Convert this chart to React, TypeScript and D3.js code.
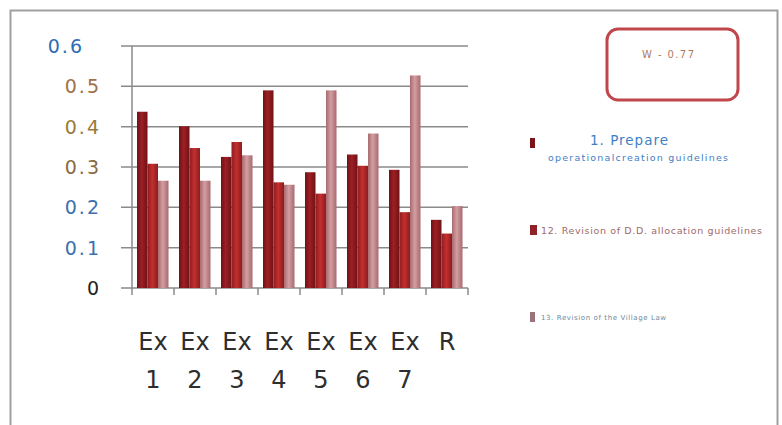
import React from "react"
import * as d3 from "d3"

const categories = ["Ex 1", "Ex 2", "Ex 3", "Ex 4", "Ex 5", "Ex 6", "Ex 7", "R"]
const seriesNames = [
  "1. Prepare operationalcreation guidelines",
  "12. Revision of D.D. allocation guidelines",
  "13. Revision of the Village Law",
]
const prepare = [0.437, 0.401, 0.325, 0.49, 0.287, 0.331, 0.293, 0.169]
const revisionDD = [0.308, 0.347, 0.362, 0.262, 0.234, 0.303, 0.188, 0.135]
const revisionLaw = [0.266, 0.266, 0.329, 0.256, 0.49, 0.383, 0.527, 0.203]
const yTicks = [0, 0.1, 0.2, 0.3, 0.4, 0.5, 0.6]
const tickColors = ["#222222", "#3a6fb0", "#3a6fb0", "#8a6a40", "#9a7a3a", "#a0704a", "#2e6db5"]
const seriesColors = [
  ["#6e1216", "#9e1f24", "#6e1216"],
  ["#8e1c20", "#c2302f", "#8e1c20"],
  ["#a86a6e", "#d39ea2", "#a86a6e"],
]

const W = 782
const H = 425

export default function App() {
  const x = d3.scaleBand<string>().domain(categories).range([132, 468]).padding(0)
  const y = d3.scaleLinear().domain([0, 0.6]).range([288, 46])
  const inner = d3.scaleBand<number>().domain([0, 1, 2]).range([5, 36.5]).padding(0)
  const series = [prepare, revisionDD, revisionLaw]

  return (
    <div style={{ position: "absolute", left: 0, top: 0 }}>
      <svg width={W} height={H} style={{ display: "block", background: "#fff" }} fontFamily="'DejaVu Sans', sans-serif">
        <defs>
          {seriesColors.map((c, i) => (
            <linearGradient key={i} id={`bar-grad-${i}`} x1="0" x2="1" y1="0" y2="0">
              <stop offset="0%" stopColor={c[0]} />
              <stop offset="45%" stopColor={c[1]} />
              <stop offset="100%" stopColor={c[2]} />
            </linearGradient>
          ))}
        </defs>

        {/* outer frame */}
        <rect x={10.5} y={10.5} width={767} height={440} fill="none" stroke="#a0a0a0" strokeWidth={2} />

        {/* gridlines */}
        {yTicks.map((t) => (
          <line key={t} x1={121} x2={468} y1={y(t)} y2={y(t)} stroke="#8a8a8a" strokeWidth={1.5} />
        ))}
        <line x1={132} x2={132} y1={y(0.6)} y2={295} stroke="#8a8a8a" strokeWidth={1.5} />
        {categories.map((c) => (
          <line key={c} x1={(x(c) ?? 0) + x.bandwidth()} x2={(x(c) ?? 0) + x.bandwidth()} y1={288} y2={295} stroke="#8a8a8a" strokeWidth={1.5} />
        ))}

        {/* bars */}
        {series.map((vals, si) =>
          vals.map((v, ci) => (
            <rect
              key={`${si}-${ci}`}
              x={(x(categories[ci]) ?? 0) + (inner(si) ?? 0)}
              y={y(v)}
              width={inner.bandwidth()}
              height={y(0) - y(v)}
              fill={`url(#bar-grad-${si})`}
            />
          ))
        )}

        {/* y tick labels */}
        {yTicks.map((t, i) => (
          <text
            key={t}
            x={t === 0.6 ? 84 : 101}
            y={y(t) + 7}
            textAnchor="end"
            fontSize={19}
            letterSpacing={2}
            fill={tickColors[i]}
          >
            {t === 0 ? "0" : d3.format(".1f")(t)}
          </text>
        ))}

        {/* x labels */}
        {categories.map((c) => {
          const [a, b] = c.split(" ")
          const cx = (x(c) ?? 0) + x.bandwidth() / 2
          return (
            <text key={c} textAnchor="middle" fontSize={24} fill="#2e2e2e">
              <tspan x={cx} y={350}>{a}</tspan>
              {b && <tspan x={cx} y={388}>{b}</tspan>}
            </text>
          )
        })}

        {/* rounded box */}
        <rect x={607} y={29} width={131} height={71} rx={11} fill="#fff" stroke="#c0464c" strokeWidth={3} />
        <text x={668} y={58} textAnchor="middle" fontSize={10} fill="#b07a60" textLength={52}>W - 0.77</text>

        {/* legend */}
        <rect x={530} y={138} width={5} height={10} fill="#7a1418" />
        <text x={629} y={145} textAnchor="middle" fontSize={13.5} fill="#3f7fc4" textLength={78}>1. Prepare</text>
        <text x={638} y={161} textAnchor="middle" fontSize={9.5} fill="#3f7fc4" textLength={180}>
          {seriesNames[0].replace("1. Prepare ", "")}
        </text>

        <rect x={530} y={225} width={7} height={10} fill="#8e2226" />
        <text x={541} y={234} fontSize={9.5} fill="#a06a6a" textLength={221}>{seriesNames[1]}</text>

        <rect x={530} y={312} width={5} height={10} fill="#9a7478" />
        <text x={541} y={320} fontSize={7} fill="#6a8aa0" textLength={125}>{seriesNames[2]}</text>
      </svg>
    </div>
  )
}
